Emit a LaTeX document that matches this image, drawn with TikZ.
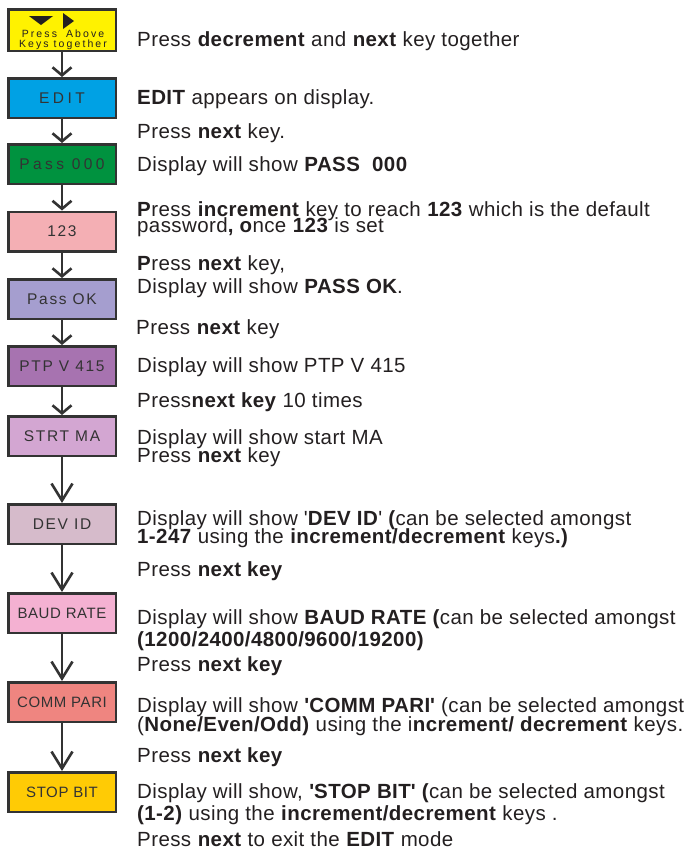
\documentclass[tikz,border=0pt]{standalone}
\usepackage{fontspec}
\setmainfont[LetterSpace=2]{Liberation Sans}
\newfontfamily\labelwide[LetterSpace=22]{Liberation Sans}
\newfontfamily\labelmid[LetterSpace=11]{Liberation Sans}
\newfontfamily\labelnarrow[LetterSpace=4]{Liberation Sans}
\newfontfamily\keyfont[LetterSpace=20]{Liberation Sans}
\usetikzlibrary{arrows.meta}
\definecolor{ink}{HTML}{231F20}
\definecolor{linegray}{HTML}{333333}
\definecolor{keyyellow}{HTML}{FFF200}
\definecolor{editblue}{HTML}{00A1E4}
\definecolor{passgreen}{HTML}{00923F}
\definecolor{codepink}{HTML}{F4AFB4}
\definecolor{oklilac}{HTML}{A59ECF}
\definecolor{ptppurple}{HTML}{A773B0}
\definecolor{strtmauve}{HTML}{D3A6D2}
\definecolor{devrose}{HTML}{D6BBCB}
\definecolor{baudpink}{HTML}{F4B1D2}
\definecolor{commsalmon}{HTML}{EF8580}
\definecolor{stopgold}{HTML}{FFCB05}
\begin{document}
\begin{tikzpicture}[x=1pt,y=-1pt,
	stepbox/.style={draw=linegray,line width=2.5pt,minimum width=107.5pt,minimum height=39.5pt,inner sep=0pt,text=linegray},
	widelabel/.style={stepbox,font=\labelwide\fontsize{15.5}{15.5}\selectfont},
	midlabel/.style={stepbox,font=\labelmid\fontsize{15.5}{15.5}\selectfont},
	narrowlabel/.style={stepbox,font=\labelnarrow\fontsize{15}{15}\selectfont},
	note/.style={anchor=base west,inner sep=0pt,text=ink,font=\fontsize{20.5}{20.5}\selectfont},
	flow/.style={draw=linegray,line width=2pt,-{Straight Barb[length=8pt,width=19pt,line width=2.6pt]}},
	longflow/.style={draw=linegray,line width=2pt,-{Straight Barb[length=17pt,width=21pt,line width=2.6pt]}}]
	\useasboundingbox (0,0) rectangle (688,849);

	\node[stepbox,fill=keyyellow,minimum height=41.5pt] (keys) at (62,30) {};
	\fill[ink] (29,16) -- (53,16) -- (41,25) -- cycle;
	\fill[ink] (63,13) -- (63,29) -- (74,21) -- cycle;
	\node[inner sep=0pt,align=center,text=ink,font=\keyfont\fontsize{10.5}{10.5}\selectfont] (keystext) at (63,39.6) {Press\hspace{9pt}Above\\Keys together};

	\node[widelabel,fill=editblue] (edit) at (62,98) {EDIT};
	\node[widelabel,fill=passgreen] (pass) at (62,164) {Pass 000};
	\node[midlabel,fill=codepink] (code) at (62,231.5) {123};
	\node[midlabel,fill=oklilac] (passok) at (62,299) {Pass OK};
	\node[midlabel,fill=ptppurple] (ptp) at (62,366) {PTP V 415};
	\node[midlabel,fill=strtmauve] (strt) at (62,436) {STRT MA};
	\node[midlabel,fill=devrose] (devid) at (62,524) {DEV ID};
	\node[narrowlabel,fill=baudpink] (baud) at (62,613) {BAUD RATE};
	\node[narrowlabel,fill=commsalmon] (comm) at (62,702) {COMM PARI};
	\node[narrowlabel,fill=stopgold] (stopbit) at (62,792) {STOP BIT};

	\draw[flow] (keys.south) -- (edit.north);
	\draw[flow] (edit.south) -- (pass.north);
	\draw[flow] (pass.south) -- (code.north);
	\draw[flow] (code.south) -- (passok.north);
	\draw[flow] (passok.south) -- (ptp.north);
	\draw[flow] (ptp.south) -- (strt.north);
	\draw[longflow] (strt.south) -- (devid.north);
	\draw[longflow] (devid.south) -- (baud.north);
	\draw[longflow] (baud.south) -- (comm.north);
	\draw[longflow] (comm.south) -- (stopbit.north);

	\node[note] (note1) at (137,46) {Press \textbf{decrement} and \textbf{next} key together};
	\node[note] (note2) at (137,104) {\textbf{EDIT} appears on display.};
	\node[note] (note3) at (137,138) {Press \textbf{next} key.};
	\node[note] (note4) at (137,171) {Display will show \textbf{PASS\ \ 000}};
	\node[note] (note5a) at (137,216) {\textbf{P}ress \textbf{increment} key to reach \textbf{123} which is the default};
	\node[note] (note5b) at (137,232) {password\textbf{, o}nce \textbf{123} is set};
	\node[note] (note6a) at (137,270) {\textbf{P}ress \textbf{next} key,};
	\node[note] (note6b) at (137,293) {Display will show \textbf{PASS OK}.};
	\node[note] (note7) at (136,334) {Press \textbf{next} key};
	\node[note] (note8) at (137,372) {Display will show PTP V 415};
	\node[note] (note9) at (137,407) {Press\textbf{next key} 10 times};
	\node[note] (note10a) at (137,444) {Display will show start MA};
	\node[note] (note10b) at (137,462) {Press \textbf{next} key};
	\node[note] (note11a) at (137,525) {Display will show \textquotesingle\textbf{DEV ID}\textquotesingle\ \textbf{(}can be selected amongst};
	\node[note] (note11b) at (137,543) {\textbf{1-247} using the \textbf{increment/decrement} keys\textbf{.)}};
	\node[note] (note12) at (137,576) {Press \textbf{next key}};
	\node[note] (note13a) at (137,624) {Display will show \textbf{BAUD RATE (}can be selected amongst};
	\node[note] (note13b) at (137,646) {\textbf{(1200/2400/4800/9600/19200)}};
	\node[note] (note14) at (137,671) {Press \textbf{next key}};
	\node[note] (note15a) at (137,712) {Display will show \textbf{\textquotesingle COMM PARI\textquotesingle} (can be selected amongst};
	\node[note] (note15b) at (137,731) {(\textbf{None/Even/Odd)} using the i\textbf{ncrement/ decrement} keys.};
	\node[note] (note16) at (137,762) {Press \textbf{next key}};
	\node[note] (note17a) at (137,798) {Display will show, \textbf{\textquotesingle STOP BIT\textquotesingle\ (}can be selected amongst};
	\node[note] (note17b) at (137,820) {\textbf{(1-2)} using the \textbf{increment/decrement} keys .};
	\node[note] (note18) at (137,846) {Press \textbf{next} to exit the \textbf{EDIT} mode};
\end{tikzpicture}
\end{document}
